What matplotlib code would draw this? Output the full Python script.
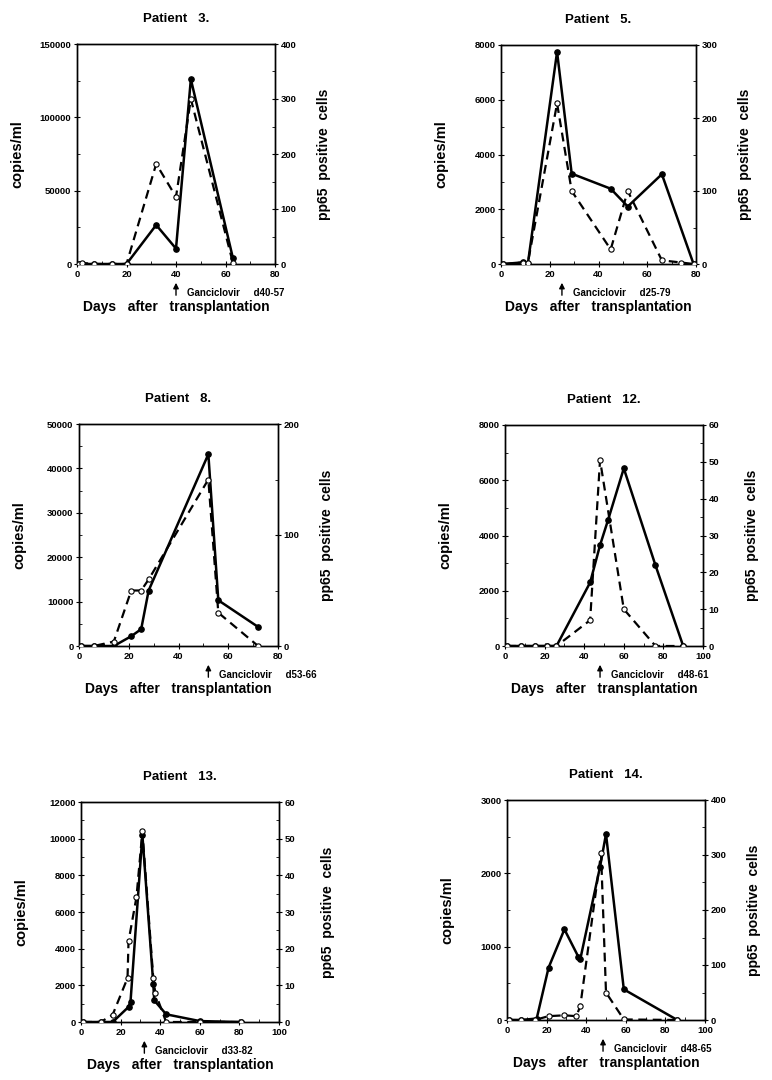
import matplotlib
matplotlib.use('Agg')
import matplotlib.pyplot as plt
from matplotlib.ticker import MultipleLocator, AutoMinorLocator

plt.rcParams['font.family'] = ['Liberation Sans', 'DejaVu Sans']
plt.rcParams['font.weight'] = 'bold'

# values: day, copies/ml (solid), pp65 positive cells (dashed)
days3_dna = [1, 2, 7, 14, 20, 32, 40, 46, 63]
dna3 = [0, 0, 0, 0, 0, 26600, 10500, 126000, 4000]
days3_pp = [1, 2, 7, 14, 20, 32, 40, 46, 63]
pp3 = [0, 2, 0, 0, 0, 182, 122, 300, 2]

days5_dna = [1, 9, 11, 23, 29, 45, 52, 66, 79]
dna5 = [0, 60, 0, 7750, 3300, 2750, 2100, 3280, 0]
days5_pp = [1, 9, 11, 23, 29, 45, 52, 66, 74, 79]
pp5 = [0, 2, 1, 220, 100, 20, 100, 5, 2, 0]

days8_dna = [1, 6, 14, 21, 25, 28, 52, 56, 72]
dna8 = [0, 0, 0, 2200, 3800, 12500, 43200, 10300, 4300]
days8_pp = [1, 6, 14, 21, 25, 28, 52, 56, 72]
pp8 = [0, 0, 4, 50, 50, 60, 150, 30, 0]

days12_dna = [1, 8, 15, 21, 26, 43, 48, 52, 60, 76, 90]
dna12 = [0, 0, 0, 0, 0, 2300, 3650, 4550, 6430, 2920, 0]
days12_pp = [1, 8, 15, 21, 26, 43, 48, 60, 76, 90]
pp12 = [0, 0, 0, 0, 0, 7, 50.5, 10, 0, 0]

days13_dna = [1, 10, 16, 24, 25, 31, 36.5, 37, 43, 60, 81]
dna13 = [0, 0, 0, 820, 1090, 10200, 2090, 1180, 420, 50, 0]
days13_pp = [1, 10, 16, 23.5, 24, 28, 31, 36.5, 37.5, 43, 60, 81]
pp13 = [0, 0, 2, 12, 22, 34, 52, 12, 8, 0, 0, 0]

days14_dna = [1, 7, 15, 21, 29, 36, 37, 47, 50, 59, 86]
dna14 = [0, 0, 20, 714, 1236, 864, 827, 2090, 2536, 418, 0]
days14_pp = [1, 7, 14, 21, 29, 35, 37, 47.5, 50, 59, 86]
pp14 = [0, 0, 0, 7, 8.5, 7, 25, 303, 50, 1, 0]

titles = ['Patient   3.', 'Patient   5.', 'Patient   8.', 'Patient   12.', 'Patient   13.', 'Patient   14.']
gcv_day = [40, 25, 52, 48, 32, 48.5]
gcv_text = ['Ganciclovir     d40-57', 'Ganciclovir     d25-79', 'Ganciclovir     d53-66',
            'Ganciclovir     d48-61', 'Ganciclovir     d33-82', 'Ganciclovir     d48-65']
xmax = [80, 80, 80, 100, 100, 100]
left_lim = [(150000, 50000), (8000, 2000), (50000, 10000), (8000, 2000), (12000, 2000), (3000, 1000)]
right_lim = [(400, 100), (300, 100), (200, 100), (60, 10), (60, 10), (400, 100)]

series = [(days3_dna, dna3, days3_pp, pp3), (days5_dna, dna5, days5_pp, pp5),
          (days8_dna, dna8, days8_pp, pp8), (days12_dna, dna12, days12_pp, pp12),
          (days13_dna, dna13, days13_pp, pp13), (days14_dna, dna14, days14_pp, pp14)]

W, H = 772, 1080
# axes boxes in pixels: left, top, right, bottom
boxes = [(77, 44, 275, 264), (501, 45, 696, 264),
         (79, 424, 278, 646), (505, 425, 703, 646),
         (81, 802, 279, 1022), (507, 800, 705, 1020)]

fig = plt.figure(figsize=(W / 100, H / 100), dpi=100)
for i in range(6):
    l, t, r, b = boxes[i]
    ax = fig.add_axes([l / W, 1 - b / H, (r - l) / W, (b - t) / H])
    aw = r - l; ah = b - t
    dd, dv, pd, pv = series[i]
    ax.plot(dd, dv, color='black', linewidth=1.8, marker='o', markersize=3.8,
            markerfacecolor='black', markeredgecolor='black', zorder=3)
    ax.set_xlim(0, xmax[i]); ax.set_ylim(0, left_lim[i][0])
    ax.xaxis.set_major_locator(MultipleLocator(20)); ax.xaxis.set_minor_locator(AutoMinorLocator(2))
    ax.yaxis.set_major_locator(MultipleLocator(left_lim[i][1])); ax.yaxis.set_minor_locator(AutoMinorLocator(2))
    ax2 = ax.twinx()
    ax2.plot(pd, pv, color='black', linewidth=1.6, linestyle=(0, (4, 2.5)), marker='o', markersize=3.8,
             markerfacecolor='white', markeredgecolor='black', markeredgewidth=0.8, zorder=3)
    ax2.set_ylim(0, right_lim[i][0])
    ax2.yaxis.set_major_locator(MultipleLocator(right_lim[i][1])); ax2.yaxis.set_minor_locator(AutoMinorLocator(2))
    for a in (ax, ax2):
        a.tick_params(which='major', direction='inout', length=4, width=0.8, labelsize=6.8, pad=2)
        a.tick_params(which='minor', direction='in', length=2, width=0.6)
        for s in a.spines.values():
            s.set_linewidth(1.0)
    ax.text(0.5, 1 + 25 / ah, titles[i], transform=ax.transAxes, ha='center', va='center', fontsize=9.5)
    ax.text(-60 / aw, 0.5, 'copies/ml', transform=ax.transAxes, rotation=90, ha='center', va='center', fontsize=10.5)
    ax.text(1 + 49 / aw, 0.5, 'pp65  positive  cells', transform=ax.transAxes, rotation=90,
            ha='center', va='center', fontsize=10)
    ax.text(0.5, -43 / ah, 'Days   after   transplantation', transform=ax.transAxes, ha='center',
            va='center', fontsize=10)
    tr = ax.get_xaxis_transform()
    ax.annotate('', xy=(gcv_day[i], -16 / ah), xytext=(gcv_day[i], -34 / ah), xycoords=tr, textcoords=tr,
                arrowprops=dict(arrowstyle='-|>', color='black', lw=1.0, mutation_scale=8))
    ax.annotate(gcv_text[i], xy=(gcv_day[i], -29 / ah), xycoords=tr, xytext=(8, 0),
                textcoords='offset points', ha='left', va='center', fontsize=7)

fig.savefig('out.png', dpi=100)
